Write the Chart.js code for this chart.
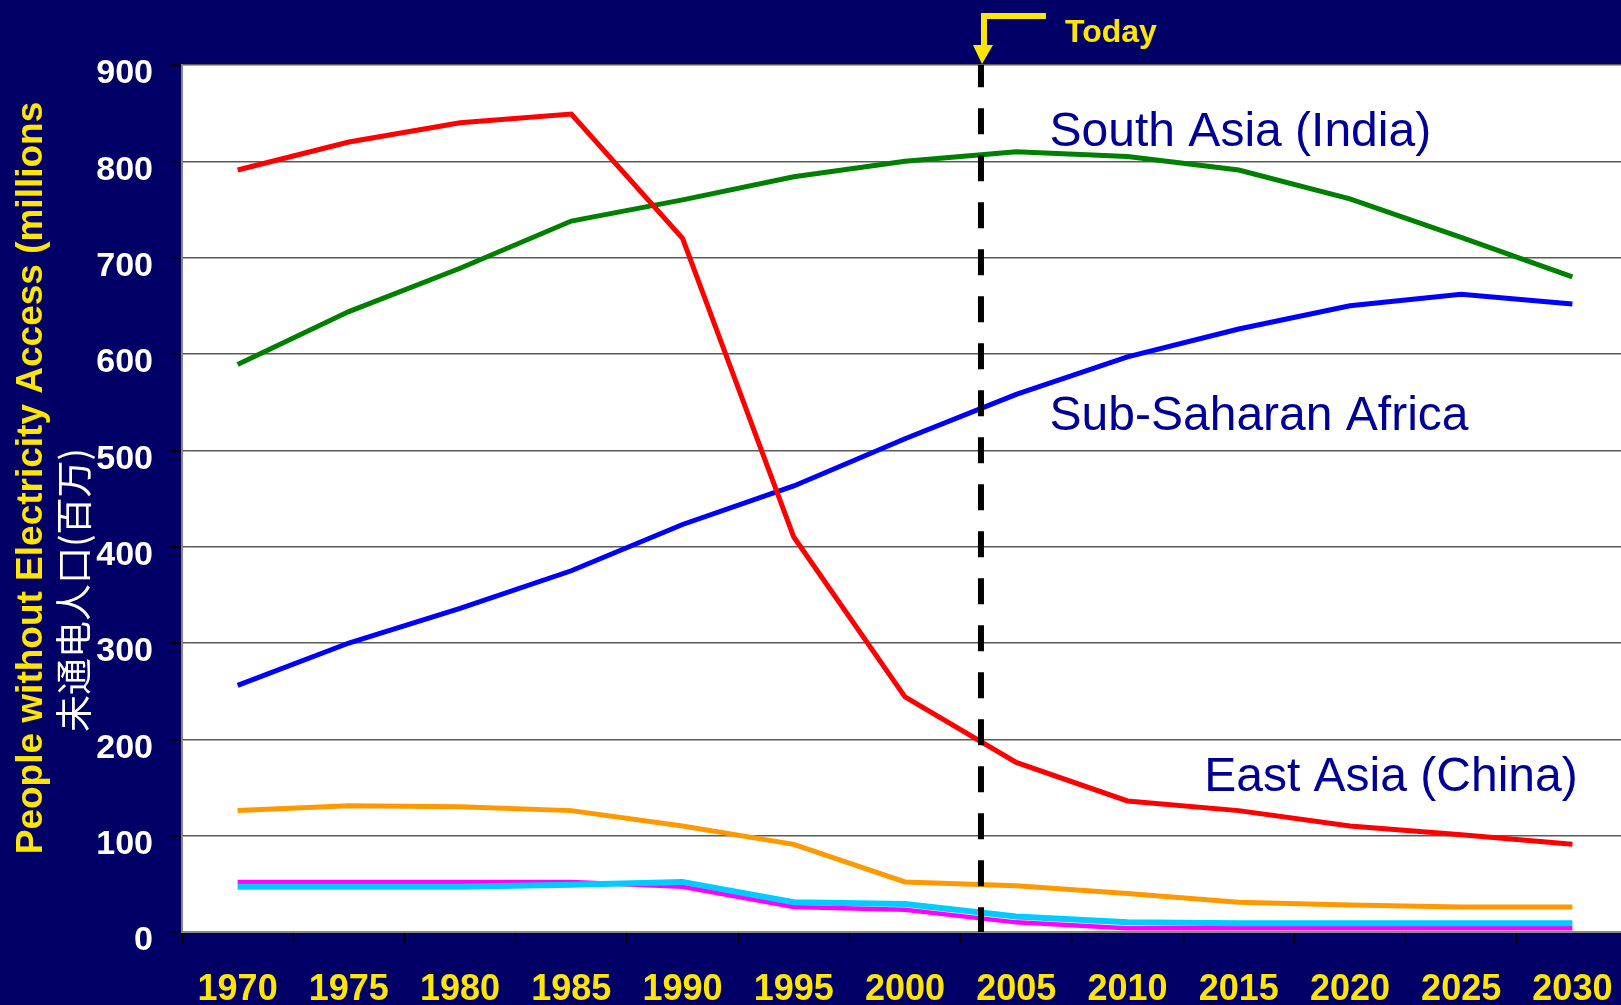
<!DOCTYPE html>
<html>
<head>
<meta charset="utf-8">
<title>People without Electricity Access</title>
<script src="https://cdn.jsdelivr.net/npm/chart.js@4.4.1/dist/chart.umd.min.js"></script>
<style>
  html, body { margin: 0; padding: 0; background: #000066; overflow: hidden; }
  canvas { display: block; }
</style>
</head>
<body>
<canvas id="chart" width="1628" height="1005"></canvas>
<script>
// categories on the x axis
const years = ['1970', '1975', '1980', '1985', '1990', '1995', '2000',
               '2005', '2010', '2015', '2020', '2025', '2030'];

// people without electricity, millions
const eastAsia    = [791, 820, 840, 849, 720, 410, 244, 176, 136, 126, 110, 101, 91];
const southAsia   = [589, 644, 689, 738, 760, 784, 800, 810, 805, 791, 761, 721, 680];
const subSaharan  = [256, 300, 336, 375, 423, 463, 512, 558, 597, 626, 650, 662, 652];
const latinAm     = [126, 131, 130, 126, 110,  91,  52,  48,  40,  31,  28,  26,  26];
const middleEast  = [ 47,  47,  47,  49,  52,  31,  29,  16,  10,   9,   9,   9,   9];
const northAfrica = [ 52,  52,  52,  52,  47,  26,  23,  10,   4,   4,   4,   4,   4];

// y axis ticks
const yMin = 0;
const yMax = 900;
const yStep = 100;

// "Today" sits a bit past 2000 (decimal category index)
const todayIndex = 6.683;

const yTitle = 'People without Electricity Access (millions';
const yTitleCn = '未通电人口(百万)';
const todayText = 'Today';

// region names written inside the plot: text, category index, value of baseline
const regionLabels = [
    ['South Asia (India)', 7.30, 816],
    ['Sub-Saharan Africa', 7.30, 521],
    ['East Asia (China)', 8.69, 146]
];

const NAVY = '#000066';
const YELLOW = '#ffe600';
const FONT = '"Liberation Sans", Arial, sans-serif';

// navy page, white plot area
const background = {
    id: 'background',
    beforeDraw(chart) {
        const { ctx, chartArea: a } = chart;
        ctx.save();
        ctx.fillStyle = NAVY;
        ctx.fillRect(0, 0, chart.width, chart.height);
        ctx.fillStyle = '#ffffff';
        ctx.fillRect(a.left, a.top, a.right - a.left, a.bottom - a.top);
        ctx.restore();
    }
};

// dashed "today" line over the series
const todayLine = {
    id: 'todayLine',
    afterDatasetsDraw(chart) {
        const { ctx, chartArea: a, scales } = chart;
        const x = scales.x.getPixelForValue(todayIndex);
        ctx.save();
        ctx.strokeStyle = '#000000';
        ctx.lineWidth = 6;
        ctx.setLineDash([26, 21]);
        ctx.lineDashOffset = 3.7;
        ctx.beginPath();
        ctx.moveTo(x, a.top);
        ctx.lineTo(x, a.bottom);
        ctx.stroke();
        ctx.restore();
    }
};

// titles, region names and the yellow arrow
const textLayer = {
    id: 'textLayer',
    afterDraw(chart) {
        const { ctx, chartArea: a, scales } = chart;
        ctx.save();

        // y axis titles, rotated
        ctx.fillStyle = YELLOW;
        ctx.font = 'bold 37px ' + FONT;
        ctx.textAlign = 'center';
        ctx.textBaseline = 'alphabetic';
        ctx.save();
        ctx.translate(42, a.top + 413);
        ctx.rotate(-Math.PI / 2);
        ctx.fillText(yTitle, 0, 0);
        ctx.restore();

        ctx.fillStyle = '#ffffff';
        ctx.font = '37px "Noto Sans CJK SC", sans-serif';
        ctx.textBaseline = 'middle';
        ctx.save();
        ctx.translate(74, a.top + 525);
        ctx.rotate(-Math.PI / 2);
        ctx.fillText(yTitleCn, 0, 0);
        ctx.restore();

        // region names
        ctx.fillStyle = '#000099';
        ctx.font = '48px ' + FONT;
        ctx.textAlign = 'left';
        ctx.textBaseline = 'alphabetic';
        regionLabels.forEach(([txt, xi, v]) => {
            ctx.fillText(txt, scales.x.getPixelForValue(xi), scales.y.getPixelForValue(v));
        });

        // elbow arrow pointing down at the today line
        const x = scales.x.getPixelForValue(todayIndex) + 1;
        ctx.strokeStyle = YELLOW;
        ctx.fillStyle = YELLOW;
        ctx.lineWidth = 6;
        ctx.lineCap = 'butt';
        ctx.lineJoin = 'miter';
        ctx.beginPath();
        ctx.moveTo(x + 64, 16);
        ctx.lineTo(x + 2, 16);
        ctx.lineTo(x + 2, 46);
        ctx.stroke();
        ctx.beginPath();
        ctx.moveTo(x - 9, 45);
        ctx.lineTo(x + 11, 45);
        ctx.lineTo(x, a.top - 1);
        ctx.closePath();
        ctx.fill();

        ctx.font = 'bold 32px ' + FONT;
        ctx.fillText(todayText, x + 83, 42);

        ctx.restore();
    }
};

const series = [
    { label: 'East Asia (China)', data: eastAsia, borderColor: '#ff0000', borderWidth: 5 },
    { label: 'South Asia (India)', data: southAsia, borderColor: '#008000', borderWidth: 5 },
    { label: 'Sub-Saharan Africa', data: subSaharan, borderColor: '#0000ff', borderWidth: 5 },
    { label: 'Latin America', data: latinAm, borderColor: '#ff9900', borderWidth: 5 },
    { label: 'Middle East', data: middleEast, borderColor: '#00ccff', borderWidth: 6 },
    { label: 'North Africa', data: northAfrica, borderColor: '#ff00ff', borderWidth: 4.5 }
];

const ctx = document.getElementById('chart').getContext('2d');

new Chart(ctx, {
    type: 'line',
    data: {
        labels: years,
        datasets: series.map(s => ({
            label: s.label,
            data: s.data,
            borderColor: s.borderColor,
            backgroundColor: s.borderColor,
            borderWidth: s.borderWidth,
            pointRadius: 0,
            tension: 0,
            fill: false
        }))
    },
    options: {
        responsive: false,
        animation: false,
        devicePixelRatio: 1,
        layout: { padding: { top: 65, left: 0, right: 0, bottom: 0 } },
        plugins: {
            legend: { display: false },
            tooltip: { enabled: false }
        },
        scales: {
            x: {
                offset: true,
                afterFit: (scale) => {
                    scale.height = 73;
                    // plot runs to the right edge, no room kept for the last label
                    scale.paddingLeft = 0;
                    scale.paddingRight = 0;
                },
                grid: {
                    offset: true,
                    drawOnChartArea: false,
                    drawTicks: true,
                    tickLength: 12,
                    tickColor: '#000000',
                    tickWidth: 1.5
                },
                border: { color: '#888888', width: 2 },
                ticks: {
                    color: YELLOW,
                    font: { family: FONT, size: 36, weight: 'bold' },
                    padding: 24,
                    autoSkip: false,
                    maxRotation: 0
                }
            },
            y: {
                min: yMin,
                max: yMax,
                afterFit: (scale) => { scale.width = 182; },
                grid: {
                    color: '#5a5a5a',
                    lineWidth: 1.6,
                    tickLength: 13,
                    tickColor: '#000000'
                },
                border: { color: '#888888', width: 2 },
                ticks: {
                    stepSize: yStep,
                    color: '#ffffff',
                    font: { family: FONT, size: 34, weight: 'bold' },
                    padding: 16,
                    labelOffset: 9
                }
            }
        }
    },
    plugins: [background, todayLine, textLayer]
});
</script>
</body>
</html>
